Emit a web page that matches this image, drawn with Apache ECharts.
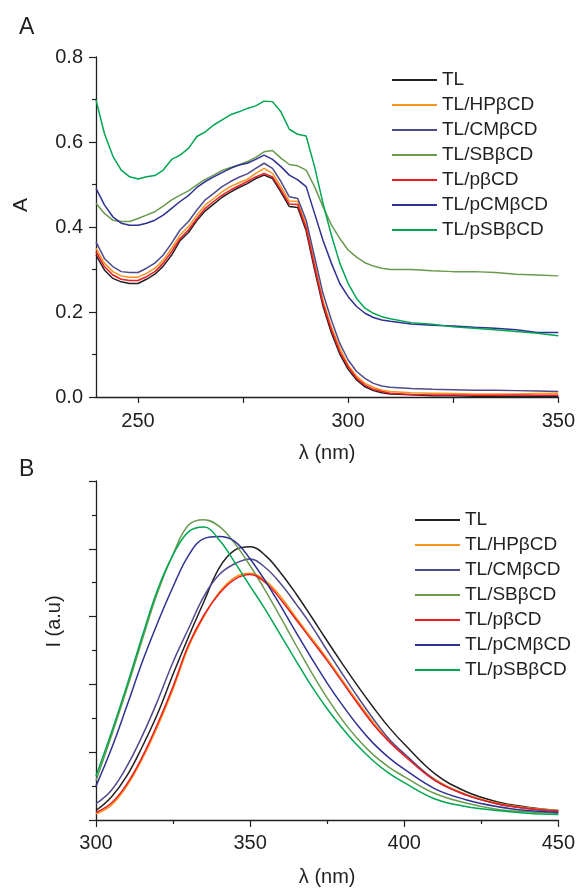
<!DOCTYPE html>
<html>
<head>
<meta charset="utf-8">
<script src="https://cdn.jsdelivr.net/npm/echarts@6/dist/echarts.min.js"></script>
<style>
  html, body { margin: 0; background: #fff; }
  #chart { width: 578px; height: 888px; }
</style>
</head>
<body>
<div id="chart"></div>
<script>
const seriesNames = ["TL", "TL/HPβCD", "TL/CMβCD", "TL/SBβCD", "TL/pβCD", "TL/pCMβCD", "TL/pSBβCD"];
const lineColors = ["#231f20", "#f7941d", "#4e4b8e", "#6a9a4d", "#ed1c24", "#2e3192", "#00a651"];

// panel A: absorbance
const absWavelength = [240, 242, 244, 246, 248, 250, 252, 254, 256, 258, 260, 262, 264, 266, 268, 270, 272, 274, 276, 278, 280, 282, 284, 286, 288, 290, 292, 294, 296, 298, 300, 302, 304, 306, 308, 310, 315, 320, 325, 330, 335, 340, 345, 350];
const absTL = [0.334, 0.299, 0.279, 0.271, 0.267, 0.267, 0.277, 0.289, 0.308, 0.334, 0.368, 0.387, 0.415, 0.438, 0.454, 0.470, 0.482, 0.493, 0.502, 0.514, 0.522, 0.514, 0.482, 0.448, 0.446, 0.391, 0.300, 0.214, 0.151, 0.101, 0.065, 0.040, 0.024, 0.015, 0.010, 0.007, 0.005, 0.003, 0.003, 0.002, 0.002, 0.002, 0.002, 0.002];
const absHP = [0.350, 0.315, 0.295, 0.285, 0.282, 0.282, 0.291, 0.303, 0.322, 0.350, 0.381, 0.401, 0.428, 0.452, 0.467, 0.483, 0.495, 0.504, 0.512, 0.526, 0.538, 0.526, 0.495, 0.461, 0.460, 0.405, 0.315, 0.228, 0.165, 0.115, 0.075, 0.049, 0.032, 0.023, 0.016, 0.013, 0.010, 0.009, 0.008, 0.007, 0.007, 0.007, 0.008, 0.009];
const absCM = [0.365, 0.326, 0.307, 0.295, 0.293, 0.293, 0.303, 0.315, 0.334, 0.362, 0.393, 0.413, 0.440, 0.464, 0.479, 0.495, 0.507, 0.517, 0.525, 0.538, 0.550, 0.538, 0.507, 0.471, 0.467, 0.416, 0.330, 0.244, 0.181, 0.126, 0.087, 0.060, 0.044, 0.032, 0.026, 0.023, 0.020, 0.018, 0.017, 0.016, 0.016, 0.015, 0.014, 0.013];
const absSB = [0.456, 0.432, 0.416, 0.413, 0.413, 0.420, 0.428, 0.436, 0.449, 0.464, 0.475, 0.485, 0.499, 0.512, 0.522, 0.533, 0.540, 0.546, 0.554, 0.564, 0.577, 0.580, 0.562, 0.547, 0.544, 0.534, 0.495, 0.448, 0.405, 0.373, 0.346, 0.329, 0.316, 0.308, 0.303, 0.300, 0.300, 0.297, 0.295, 0.295, 0.293, 0.289, 0.287, 0.285];
const absP = [0.342, 0.307, 0.287, 0.277, 0.274, 0.274, 0.283, 0.295, 0.315, 0.342, 0.373, 0.393, 0.420, 0.444, 0.460, 0.475, 0.487, 0.497, 0.507, 0.518, 0.526, 0.518, 0.487, 0.454, 0.453, 0.397, 0.307, 0.220, 0.158, 0.107, 0.071, 0.044, 0.028, 0.018, 0.013, 0.009, 0.006, 0.005, 0.005, 0.004, 0.004, 0.005, 0.004, 0.004];
const absPCM = [0.491, 0.452, 0.424, 0.409, 0.404, 0.404, 0.409, 0.416, 0.428, 0.444, 0.460, 0.474, 0.493, 0.507, 0.518, 0.528, 0.538, 0.546, 0.550, 0.559, 0.569, 0.559, 0.542, 0.522, 0.511, 0.495, 0.432, 0.369, 0.315, 0.267, 0.236, 0.213, 0.197, 0.187, 0.181, 0.178, 0.172, 0.169, 0.167, 0.164, 0.162, 0.158, 0.152, 0.152];
const absPSB = [0.699, 0.620, 0.567, 0.534, 0.518, 0.513, 0.518, 0.521, 0.534, 0.559, 0.569, 0.585, 0.613, 0.624, 0.640, 0.652, 0.664, 0.671, 0.679, 0.685, 0.696, 0.695, 0.671, 0.630, 0.618, 0.614, 0.542, 0.456, 0.381, 0.315, 0.267, 0.232, 0.209, 0.197, 0.189, 0.184, 0.175, 0.171, 0.165, 0.162, 0.158, 0.154, 0.150, 0.144];
const absLabels = [250, 300, 350];
const absTicks = [250, 275, 300, 325, 350];

// panel B: fluorescence (arbitrary units)
const flWavelength = [300, 305, 310, 315, 320, 325, 330, 335, 340, 345, 350, 355, 360, 365, 370, 375, 380, 385, 390, 395, 400, 410, 420, 430, 440, 450];
const flTL = [0.14, 0.34, 0.65, 1.08, 1.57, 2.15, 2.70, 3.22, 3.72, 3.98, 4.03, 3.90, 3.64, 3.33, 2.99, 2.64, 2.30, 1.97, 1.66, 1.37, 1.12, 0.68, 0.42, 0.27, 0.19, 0.14];
const flHP = [0.09, 0.22, 0.50, 0.90, 1.38, 1.93, 2.55, 3.00, 3.36, 3.58, 3.64, 3.53, 3.29, 2.98, 2.68, 2.38, 2.06, 1.74, 1.44, 1.18, 0.97, 0.60, 0.38, 0.25, 0.18, 0.14];
const flCM = [0.24, 0.44, 0.79, 1.24, 1.76, 2.33, 2.82, 3.30, 3.62, 3.78, 3.85, 3.72, 3.48, 3.18, 2.86, 2.50, 2.15, 1.81, 1.49, 1.20, 0.98, 0.59, 0.37, 0.24, 0.17, 0.13];
const flSB = [0.58, 1.24, 1.93, 2.66, 3.36, 3.92, 4.35, 4.43, 4.33, 4.08, 3.75, 3.38, 2.98, 2.57, 2.17, 1.80, 1.47, 1.19, 0.96, 0.78, 0.64, 0.39, 0.25, 0.16, 0.12, 0.10];
const flP = [0.11, 0.25, 0.53, 0.93, 1.42, 1.97, 2.58, 3.02, 3.34, 3.55, 3.62, 3.50, 3.25, 2.95, 2.65, 2.35, 2.03, 1.71, 1.41, 1.16, 0.95, 0.58, 0.37, 0.24, 0.17, 0.13];
const flPCM = [0.50, 1.05, 1.68, 2.33, 2.91, 3.44, 3.90, 4.15, 4.18, 4.11, 3.85, 3.52, 3.15, 2.76, 2.38, 2.02, 1.69, 1.39, 1.13, 0.92, 0.75, 0.46, 0.30, 0.20, 0.14, 0.11];
const flPSB = [0.65, 1.29, 1.98, 2.71, 3.40, 3.91, 4.25, 4.32, 4.13, 3.80, 3.45, 3.10, 2.72, 2.34, 1.97, 1.64, 1.35, 1.09, 0.87, 0.69, 0.55, 0.31, 0.20, 0.14, 0.10, 0.08];

const absSeries = [absTL, absHP, absCM, absSB, absP, absPCM, absPSB];
const flSeries = [flTL, flHP, flCM, flSB, flP, flPCM, flPSB];

const ink = "#231f20";
const font = "Liberation Sans";

const chart = echarts.init(document.getElementById("chart"));

const axisLine = { lineStyle: { color: ink, width: 1.3 } };
const tickStyle = { lineStyle: { color: ink, width: 1.2 } };

const legendBase = {
  orient: "vertical",
  icon: "rect",
  itemWidth: 45,
  itemHeight: 2,
  itemGap: 5,
  padding: 0,
  selectedMode: false,
  textStyle: { fontFamily: font, fontSize: 19, lineHeight: 20, color: ink },
  data: seriesNames,
};

const option = {
  animation: false,
  backgroundColor: "#fff",
  textStyle: { fontFamily: font },
  title: [
    { text: "A", left: 19, top: 16, padding: 0, textStyle: { fontFamily: font, fontSize: 23, fontWeight: "normal", color: ink } },
    { text: "B", left: 19, top: 458, padding: 0, textStyle: { fontFamily: font, fontSize: 23, fontWeight: "normal", color: ink } },
  ],
  legend: [
    Object.assign({ left: 392, top: 70 }, legendBase),
    Object.assign({ left: 415, top: 510 }, legendBase),
  ],
  grid: [
    { left: 96, top: 57, width: 463, height: 340 },
    { left: 96, top: 481, width: 463, height: 340 },
  ],
  xAxis: [
    {
      type: "value", gridIndex: 0, min: 240, max: 350,
      name: "λ (nm)", nameLocation: "middle", nameGap: 46,
      nameTextStyle: { fontFamily: font, fontSize: 20, color: ink },
      axisLine: axisLine,
      axisTick: Object.assign({ length: 6, customValues: absTicks }, tickStyle),
      axisLabel: { customValues: absLabels, margin: 14, fontFamily: font, fontSize: 20, color: ink },
      splitLine: { show: false },
    },
    {
      type: "value", gridIndex: 1, min: 300, max: 450, interval: 50,
      name: "λ (nm)", nameLocation: "middle", nameGap: 47,
      nameTextStyle: { fontFamily: font, fontSize: 20, color: ink },
      axisLine: axisLine,
      axisTick: Object.assign({ length: 7 }, tickStyle),
      minorTick: Object.assign({ show: true, splitNumber: 2, length: 4 }, tickStyle),
      axisLabel: { margin: 13, fontFamily: font, fontSize: 20, color: ink },
      splitLine: { show: false },
    },
  ],
  yAxis: [
    {
      type: "value", gridIndex: 0, min: 0, max: 0.8, interval: 0.2,
      name: "A", nameLocation: "middle", nameGap: 64, nameRotate: 90,
      nameTextStyle: { fontFamily: font, fontSize: 21, color: ink, padding: [0, 0, 0, 44] },
      axisLine: Object.assign({ show: true }, axisLine),
      axisTick: Object.assign({ show: true, length: 7 }, tickStyle),
      minorTick: Object.assign({ show: true, splitNumber: 2, length: 4 }, tickStyle),
      axisLabel: { margin: 13, fontFamily: font, fontSize: 20, color: ink, formatter: (v) => v.toFixed(1) },
      splitLine: { show: false },
    },
    {
      type: "value", gridIndex: 1, min: 0, max: 5, interval: 1,
      name: "I (a.u)", nameLocation: "middle", nameGap: 32, nameRotate: 90,
      nameTextStyle: { fontFamily: font, fontSize: 20, color: ink, padding: [0, 0, 0, 58] },
      axisLine: Object.assign({ show: true }, axisLine),
      axisTick: Object.assign({ show: true, length: 7 }, tickStyle),
      minorTick: Object.assign({ show: true, splitNumber: 2, length: 4 }, tickStyle),
      axisLabel: { show: false },
      splitLine: { show: false },
    },
  ],
  series: [
    ...seriesNames.map((name, k) => ({
      name, type: "line", xAxisIndex: 0, yAxisIndex: 0,
      data: absWavelength.map((x, i) => [x, absSeries[k][i]]),
      symbol: "none", color: lineColors[k],
      lineStyle: { color: lineColors[k], width: 1.5 },
    })),
    ...seriesNames.map((name, k) => ({
      name, type: "line", xAxisIndex: 1, yAxisIndex: 1,
      data: flWavelength.map((x, i) => [x, flSeries[k][i]]),
      symbol: "none", smooth: 0.4, color: lineColors[k],
      lineStyle: { color: lineColors[k], width: 1.5 },
    })),
  ],
};

chart.setOption(option);
</script>
</body>
</html>
